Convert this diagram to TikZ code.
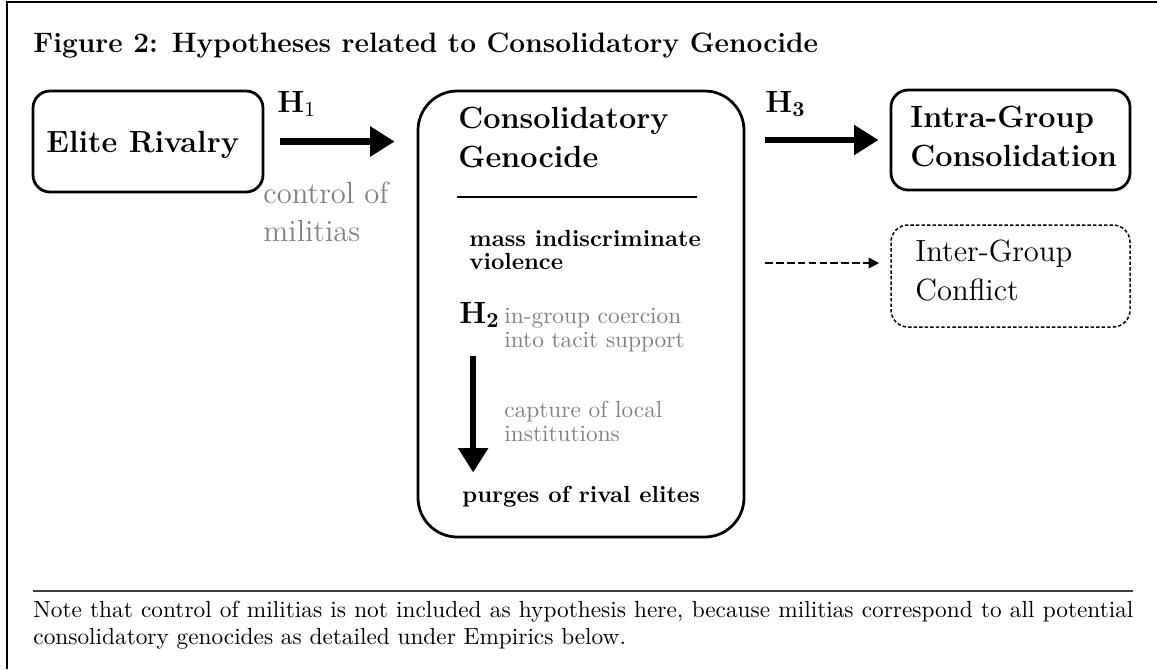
\documentclass[tikz,border=0pt]{standalone}
\usetikzlibrary{arrows.meta}
\newdimen\pxu \pxu=0.47pt
\newdimen\notew \notew=517pt
\definecolor{lblgray}{gray}{0.5}
\tikzset{
  rbox/.style={draw, line width=1.3pt, rounded corners=8pt, inner sep=0pt},
  dbox/.style={draw, line width=0.7pt, dash pattern=on 1.6pt off 1pt, rounded corners=8pt, inner sep=0pt},
  bigarrow/.style={line width=3pt, -{Triangle[length=11.5pt,width=13.5pt]}},
  dasharrow/.style={line width=0.8pt, dash pattern=on 3.5pt off 1.6pt, -{Triangle[length=5pt,width=5pt]}},
  txt/.style={anchor=base west, inner sep=0pt, align=left},
  bigbold/.style={txt, font=\fontsize{14.4}{18}\selectfont\bfseries},
  bignorm/.style={txt, font=\fontsize{14.4}{18}\selectfont},
  graylbl/.style={txt, text=lblgray, font=\fontsize{14.4}{17.4}\selectfont},
  smallbold/.style={txt, font=\fontsize{10.95}{10.5}\selectfont\bfseries},
  smallgray/.style={txt, text=lblgray, font=\fontsize{10.95}{11.5}\selectfont},
  hlab/.style={txt, font=\fontsize{14.4}{18}\selectfont}
}
\begin{document}
\begin{tikzpicture}[x=0.47pt, y=-0.47pt]
\useasboundingbox (0,0) rectangle (1157,669);
% frame
\draw[line width=0.6pt] (7,669) -- (7,2) -- (1157,2);
% title
\node[txt, font=\fontsize{13.2}{15}\selectfont\bfseries] (title) at (33,52) {Figure 2: Hypotheses related to Consolidatory Genocide};
% boxes
\node[rbox, minimum width=230*\pxu, minimum height=101*\pxu] (er) at (148,141.5) {};
\node[bigbold] (ertxt) at (46,152) {Elite Rivalry};
\node[rbox, rounded corners=18.5pt, minimum width=326*\pxu, minimum height=446*\pxu] (cg) at (581,314) {};
\node[rbox, minimum width=239*\pxu, minimum height=100*\pxu] (ig) at (1010.5,140) {};
\node[dbox, minimum width=239*\pxu, minimum height=102*\pxu] (ic) at (1010.5,276) {};
% texts in right boxes (anchored at the last line's baseline)
\node[bigbold] (igtxt) at (910,166) {Intra-Group\\Consolidation};
\node[bignorm] (ictxt) at (915,300) {Inter-Group\\Conflict};
% H1 arrow
\node[hlab] (h1) at (277,112) {$\mathbf{H}_1$};
\draw[bigarrow, shorten <=7.5pt, shorten >=10.3pt] (er.east) -- (er.east -| cg.west);
\node[graylbl] (ctrl) at (263,241) {control of\\militias};
% central box content
\node[bigbold] (cgtxt) at (458,167) {Consolidatory\\Genocide};
\draw[line width=1pt] (457,197) coordinate (rl) -- (697,197) coordinate (rr);
\node[smallbold] (mass) at (469,269) {mass indiscriminate\\violence};
\node[hlab] (h2) at (459,323) {$\mathbf{H_2}$};
\node[smallgray] (coer) at (504,347.5) {in-group coercion\\into tacit support};
\node[smallgray] (capt) at (504,441.5) {capture of local\\institutions};
\node[smallbold] (pu) at (462,502) {purges of rival elites};
\draw[bigarrow, shorten <=13pt, shorten >=6pt] ([xshift=-3pt]h2.south) -- ([xshift=-3pt]h2.south |- pu.north);
% H3 arrows
\node[hlab] (h3) at (765,112) {$\mathbf{H_3}$};
\draw[bigarrow, shorten <=9.4pt, shorten >=5.2pt] (cg.east |- ig.west) -- (ig.west);
\draw[dasharrow, shorten <=9.4pt, shorten >=5.2pt] (cg.east |- 0,263) -- (ic.west |- 0,263);
% note
\draw[line width=0.8pt, black!75] (33,591) coordinate (nl) -- (1133,591) coordinate (nr);
\node[txt, font=\fontsize{10.95}{13.6}\selectfont] (note1) at (33,617) {\makebox[\notew][s]{Note that control of militias is not included as hypothesis here, because militias correspond to all potential}};
\node[txt, font=\fontsize{10.95}{13.6}\selectfont] (note2) at (33,644) {consolidatory genocides as detailed under Empirics below.};
\end{tikzpicture}
\end{document}
